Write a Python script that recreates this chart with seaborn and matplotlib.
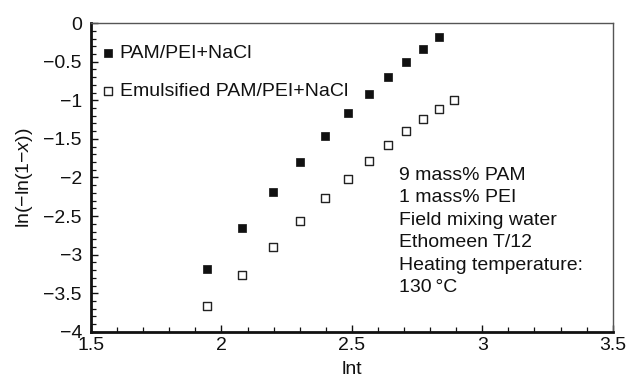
import matplotlib
matplotlib.use("Agg")
import matplotlib.pyplot as plt
import seaborn as sns
import pandas as pd
from matplotlib.ticker import MultipleLocator, FuncFormatter

# ln t values and ln(-ln(1-x))
lnt_salt = [1.946, 2.079, 2.197, 2.303, 2.398, 2.485, 2.565, 2.639, 2.708, 2.773, 2.833]
y_salt = [-3.18, -2.65, -2.19, -1.80, -1.46, -1.17, -0.92, -0.70, -0.50, -0.33, -0.18]

lnt_emul = [1.946, 2.079, 2.197, 2.303, 2.398, 2.485, 2.565, 2.639, 2.708, 2.773, 2.833, 2.890]
y_emul = [-3.67, -3.26, -2.90, -2.57, -2.26, -2.02, -1.79, -1.58, -1.40, -1.245, -1.11, -0.99]

label_salt = "PAM/PEI+NaCl"
label_emul = "Emulsified PAM/PEI+NaCl"
note_lines = ["9 mass% PAM", "1 mass% PEI", "Field mixing water",
              "Ethomeen T/12", "Heating temperature:", "130\u2009\u00b0C"]

x_ticks = [1.5, 2, 2.5, 3, 3.5]
y_ticks = [0, -0.5, -1, -1.5, -2, -2.5, -3, -3.5, -4]

sns.set_style("ticks")
plt.rcParams["font.family"] = ["Liberation Sans", "DejaVu Sans"]
plt.rcParams["mathtext.fontset"] = "custom"
plt.rcParams["mathtext.it"] = "Liberation Sans:italic"
plt.rcParams["mathtext.rm"] = "Liberation Sans"

df_salt = pd.DataFrame({"lnt": lnt_salt, "y": y_salt})
df_emul = pd.DataFrame({"lnt": lnt_emul, "y": y_emul})

fig = plt.figure(figsize=(6.32, 3.85), dpi=100)
ax = fig.add_axes([0.144, 0.138, 0.8255, 0.802])

sns.scatterplot(data=df_salt, x="lnt", y="y", marker="s", s=40, color="#111111",
                edgecolor="#111111", linewidth=0.5, label=label_salt, ax=ax)
sns.scatterplot(data=df_emul, x="lnt", y="y", marker="s", s=36, color="white",
                edgecolor="#222222", linewidth=1.0, label=label_emul, ax=ax)

ax.set_xlim(1.5, 3.5)
ax.set_ylim(-4, 0)
ax.set_xticks(x_ticks)
ax.set_yticks(y_ticks)
ax.xaxis.set_minor_locator(MultipleLocator(0.1))
ax.yaxis.set_minor_locator(MultipleLocator(0.1))
fmt = FuncFormatter(lambda v, p: ("%g" % v).replace("-", "\u2212"))
ax.xaxis.set_major_formatter(fmt)
ax.yaxis.set_major_formatter(fmt)
ax.tick_params(axis="both", which="major", direction="in", length=5, width=1,
               labelsize=14, color="#111111", labelcolor="#111111")
ax.tick_params(axis="x", which="major", pad=4)
ax.tick_params(axis="y", which="major", pad=6.5)
ax.tick_params(axis="both", which="minor", direction="in", length=3.5, width=0.9,
               color="#111111")

for side in ["left", "bottom"]:
    ax.spines[side].set_linewidth(2)
    ax.spines[side].set_color("#111111")
for side in ["top", "right"]:
    ax.spines[side].set_visible(True)
    ax.spines[side].set_linewidth(1)
    ax.spines[side].set_color("#555555")

ax.set_xlabel("lnt", fontsize=14, color="#111111", labelpad=5)
ax.set_ylabel("ln(\u2212ln(1\u2212$\\mathit{x}$))", fontsize=14, color="#111111", labelpad=6)

leg = ax.legend(loc="upper left", bbox_to_anchor=(0.021, 0.932), frameon=False,
                fontsize=14, handletextpad=0.32, handlelength=0.6,
                labelspacing=1.06, borderpad=0, borderaxespad=0)
for t in leg.get_texts():
    t.set_color("#111111")

ax.text(2.681, -1.86, "\n".join(note_lines), fontsize=14, va="top", ha="left",
        linespacing=1.42, color="#111111")

fig.savefig("out.png", dpi=100)
